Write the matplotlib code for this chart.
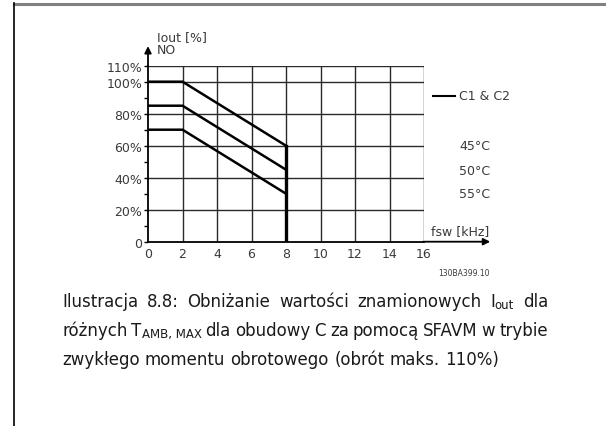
import matplotlib.pyplot as plt
from matplotlib.lines import Line2D

# derating curves, Iout [%] vs switching frequency [kHz]
fsw = [0, 2, 8]
iout_45 = [100, 100, 60]
iout_50 = [85, 85, 45]
iout_55 = [70, 70, 30]
temps = ['45°C', '50°C', '55°C']
cutoff_khz = 8

x_ticks = [0, 2, 4, 6, 8, 10, 12, 14, 16]
y_ticks = [0, 20, 40, 60, 80, 100, 110]
y_labels = ['0', '20%', '40%', '60%', '80%', '100%', '110%']
y_minor = [10, 30, 50, 70, 90]

# caption words; a word is a list of (text, is_subscript) pieces
caption = [
    ['Ilustracja', '8.8:', 'Obniżanie', 'wartości', 'znamionowych',
     [('I', False), ('out', True)], 'dla'],
    ['różnych', [('T', False), ('AMB, MAX', True)], 'dla', 'obudowy', 'C', 'za',
     'pomocą', 'SFAVM', 'w', 'trybie'],
    ['zwykłego', 'momentu', 'obrotowego', '(obrót', 'maks.', '110%)'],
]
justified = [True, True, False]

W, H = 606, 427
fig = plt.figure(figsize=(W / 100, H / 100), dpi=100)
fig.patch.set_facecolor('white')

def fx(px):
    return px / W

def fy(py):
    return 1 - py / H

# page frame
fig.add_artist(Line2D([fx(14), 1], [fy(4.5), fy(4.5)], color='#808080', lw=2.2))
fig.add_artist(Line2D([fx(14), fx(14)], [fy(4), 0], color='black', lw=1.2))

ax = fig.add_axes([fx(148), fy(242.7), fx(424) - fx(148), fy(66.7) - fy(242.7)])
ax.set_xlim(0, 16)
ax.set_ylim(0, 110)

grid_kw = dict(color='#2a2a2a', lw=1.0, zorder=1)
for x in x_ticks[1:]:
    ax.axvline(x, **grid_kw)
for y in y_ticks[1:]:
    ax.axhline(y, **grid_kw)

for vals in (iout_45, iout_50, iout_55):
    ax.plot(fsw, vals, color='black', lw=1.8, zorder=3, solid_capstyle='butt')
ax.plot([cutoff_khz, cutoff_khz], [0, iout_45[-1]], color='black', lw=2.4, zorder=3)

for s in ('top', 'right'):
    ax.spines[s].set_visible(False)
for s in ('left', 'bottom'):
    ax.spines[s].set_linewidth(1.3)

tick_font = dict(family='DejaVu Sans', size=9, color='#3a3a3a')
ax.set_xticks(x_ticks)
ax.set_xticklabels([str(v) for v in x_ticks], fontdict=tick_font)
ax.set_yticks(y_ticks)
ax.set_yticklabels(y_labels, fontdict=tick_font)
ax.set_yticks(y_minor, minor=True)
ax.tick_params(axis='y', which='both', length=3, width=1, direction='out', pad=1)
ax.tick_params(axis='x', length=0, pad=4)

# axis arrows
ax.annotate('', xy=(0, 124), xytext=(0, 108), xycoords='data',
            arrowprops=dict(arrowstyle='-|>', color='black', lw=1.3, mutation_scale=10),
            annotation_clip=False)
ax.annotate('', xy=(20.0, 0), xytext=(15.8, 0), xycoords='data',
            arrowprops=dict(arrowstyle='-|>', color='black', lw=1.3, mutation_scale=10),
            annotation_clip=False)

lab = dict(family='DejaVu Sans', size=9, color='#3a3a3a')
fig.text(fx(157), fy(38), 'Iout [%]', ha='left', va='center', **lab)
fig.text(fx(157), fy(51), 'NO', ha='left', va='center', **lab)
fig.text(fx(431), fy(232), 'fsw [kHz]', ha='left', va='center', **lab)
fig.text(fx(438), fy(273), '130BA399.10', ha='left', va='center',
         family='DejaVu Sans', size=5.5, color='#3a3a3a')

# legend and temperature labels
fig.add_artist(Line2D([fx(433), fx(455)], [fy(97), fy(97)], color='black', lw=1.5))
fig.text(fx(459), fy(97), 'C1 & C2', ha='left', va='center', **lab)
for t, py in zip(temps, [147, 172, 195]):
    fig.text(fx(459), fy(py), t, ha='left', va='center', **lab)

# caption, laid out word by word so lines can be justified
cap_font = dict(family='DejaVu Sans', size=12, color='#1a1a1a')
sub_font = dict(cap_font, size=8.5)
renderer = fig.canvas.get_renderer()
left_px, right_px = 62, 548

def piece_width(text, kw):
    t = fig.text(0, 0, text, **kw)
    w = t.get_window_extent(renderer).width
    t.remove()
    return w

def word_pieces(word):
    return [(word, False)] if isinstance(word, str) else word

space_w = piece_width('a a', cap_font) - piece_width('aa', cap_font)
for words, just, base in zip(caption, justified, [307, 336, 365]):
    widths = [sum(piece_width(p, sub_font if s else cap_font) for p, s in word_pieces(w))
              for w in words]
    gap = space_w
    if just:
        gap = (right_px - left_px - sum(widths)) / (len(words) - 1)
    x = left_px
    for w, ww in zip(words, widths):
        xx = x
        for p, s in word_pieces(w):
            kw = sub_font if s else cap_font
            fig.text(fx(xx), fy(base + (2 if s else 0)), p, ha='left', va='baseline', **kw)
            xx += piece_width(p, kw)
        x += ww + gap

fig.savefig('out.png', dpi=100)
